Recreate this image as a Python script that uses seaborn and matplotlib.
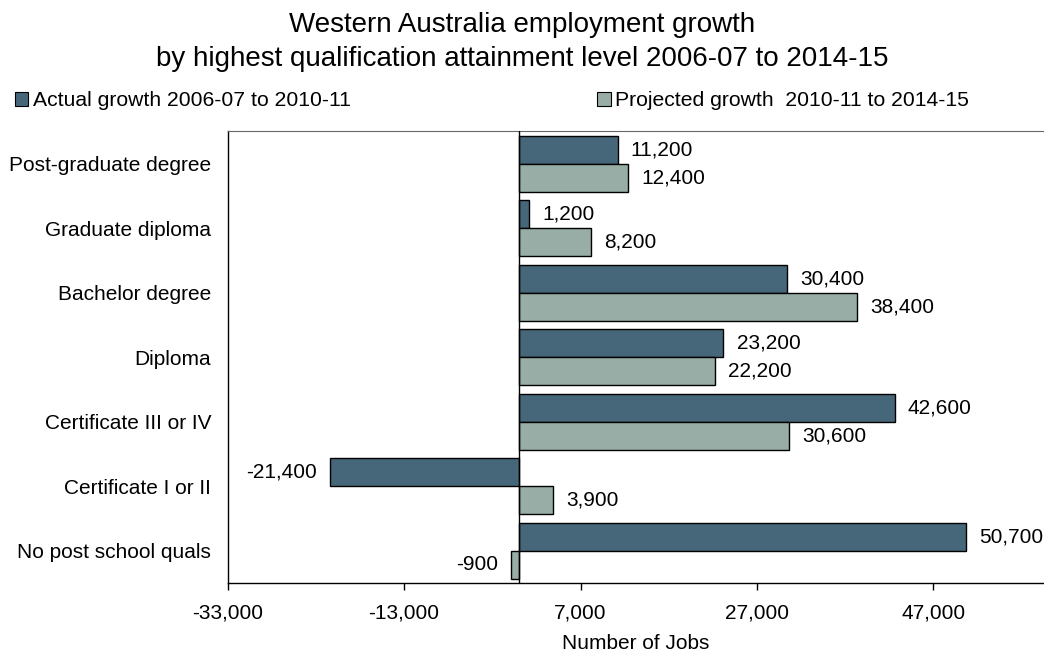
import matplotlib
matplotlib.use("Agg")
import matplotlib.pyplot as plt
import matplotlib.patches as mpatches
import seaborn as sns
import pandas as pd

categories = [
    "Post-graduate degree",
    "Graduate diploma",
    "Bachelor degree",
    "Diploma",
    "Certificate III or IV",
    "Certificate I or II",
    "No post school quals",
]
actual_growth = [11200, 1200, 30400, 23200, 42600, -21400, 50700]
projected_growth = [12400, 8200, 38400, 22200, 30600, 3900, -900]
series_names = ["Actual growth 2006-07 to 2010-11", "Projected growth  2010-11 to 2014-15"]
x_ticks = [-33000, -13000, 7000, 27000, 47000]

colors = ["#46677A", "#97ADA6"]

df = pd.DataFrame({
    "Qualification": categories * 2,
    "Jobs": actual_growth + projected_growth,
    "Series": [series_names[0]] * len(categories) + [series_names[1]] * len(categories),
})

sns.set_theme(style="white")
plt.rcParams["font.family"] = ["Liberation Sans", "DejaVu Sans"]
plt.rcParams["text.color"] = "black"
plt.rcParams["axes.labelcolor"] = "black"
plt.rcParams["xtick.color"] = "black"
plt.rcParams["ytick.color"] = "black"

fig = plt.figure(figsize=(10.44, 6.54), dpi=100)
ax = fig.add_axes([0.2181, 0.1086, 0.7815, 0.6904])

sns.barplot(
    data=df, y="Qualification", x="Jobs", hue="Series", order=categories,
    hue_order=series_names, palette=colors, orient="h", width=0.87, gap=0,
    edgecolor="black", linewidth=1, saturation=1, legend=False, ax=ax,
)

# value labels at the end of every bar (left side for negative values)
for container in ax.containers:
    texts = ax.bar_label(container, labels=[f"{v:,.0f}" for v in container.datavalues],
                         padding=9.5, fontsize=15, color="black")
    for t in texts:
        t.set_clip_on(False)

ax.axvline(0, color="black", lw=1, zorder=3)
ax.set_xlim(-33000, 59500)
ax.set_ylim(len(categories) - 0.5, -0.5)
ax.set_xticks(x_ticks)
ax.set_xticklabels([f"{t:,}" for t in x_ticks])
ax.tick_params(axis="x", direction="out", length=5, width=1, color="black",
               labelsize=15, pad=10, bottom=True)
ax.tick_params(axis="y", length=0, labelsize=15, pad=12)
ax.set_ylabel("")
ax.set_xlabel("Number of Jobs", fontsize=15, labelpad=8)

for side in ["left", "bottom"]:
    ax.spines[side].set_color("black")
    ax.spines[side].set_linewidth(1)
ax.spines["top"].set_color("#666666")
ax.spines["top"].set_linewidth(0.8)
ax.spines["right"].set_visible(False)

fig.suptitle("Western Australia employment growth\nby highest qualification attainment level 2006-07 to 2014-15",
             fontsize=20, y=0.981, linespacing=1.37, color="black")

handles = [mpatches.Patch(facecolor=c, edgecolor="black", linewidth=0.8) for c in colors]
fig.legend(handles, series_names, loc="center left", bbox_to_anchor=(0.014, 1 - 101 / 654),
           ncol=2, frameon=False, fontsize=15.2, handlelength=0.65, handleheight=0.65,
           handletextpad=0.2, columnspacing=11.7, borderaxespad=0, borderpad=0)

fig.savefig("out.png", dpi=100)
